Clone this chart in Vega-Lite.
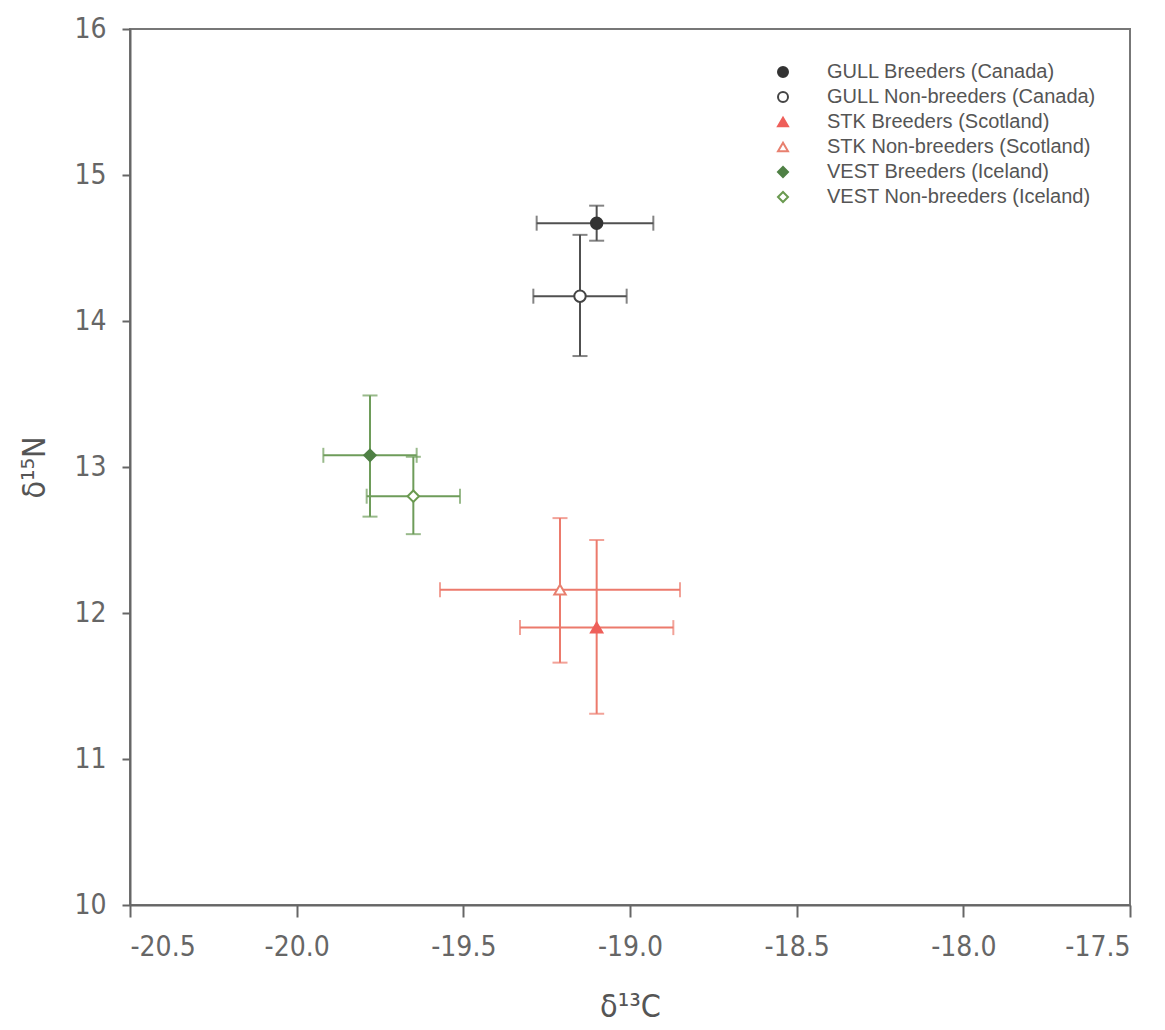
{
  "$schema": "https://vega.github.io/schema/vega-lite/v6.json",
  "width": 1000,
  "height": 876,
  "autosize": "none",
  "padding": {"left": 130, "top": 29, "right": 35, "bottom": 125},
  "background": "white",
  "config": {
    "view": {"stroke": "#777", "strokeWidth": 2},
    "axis": {
      "grid": false,
      "domainColor": "#666",
      "domainWidth": 2,
      "tickColor": "#666",
      "tickWidth": 2,
      "labelColor": "#666",
      "titleColor": "#555",
      "labelFont": "Liberation Sans Narrow, DejaVu Sans Condensed, sans-serif",
      "labelFontSize": 28,
      "titleFont": "Liberation Sans Narrow, DejaVu Sans Condensed, sans-serif",
      "titleFontSize": 32,
      "titleFontWeight": "normal"
    }
  },
  "data": {
    "values": [
      {"group": "GULL Breeders (Canada)", "species": "GULL", "x": -19.10, "y": 14.67, "xlo": -19.28, "xhi": -18.93, "ylo": 14.55, "yhi": 14.79},
      {"group": "GULL Non-breeders (Canada)", "species": "GULL", "x": -19.15, "y": 14.17, "xlo": -19.29, "xhi": -19.01, "ylo": 13.76, "yhi": 14.59},
      {"group": "STK Breeders (Scotland)", "species": "STK", "x": -19.10, "y": 11.90, "xlo": -19.33, "xhi": -18.87, "ylo": 11.31, "yhi": 12.50},
      {"group": "STK Non-breeders (Scotland)", "species": "STK", "x": -19.21, "y": 12.16, "xlo": -19.57, "xhi": -18.85, "ylo": 11.66, "yhi": 12.65},
      {"group": "VEST Breeders (Iceland)", "species": "VEST", "x": -19.78, "y": 13.08, "xlo": -19.92, "xhi": -19.64, "ylo": 12.66, "yhi": 13.49},
      {"group": "VEST Non-breeders (Iceland)", "species": "VEST", "x": -19.65, "y": 12.80, "xlo": -19.79, "xhi": -19.51, "ylo": 12.54, "yhi": 13.07}
    ]
  },
  "layer": [
    {
      "mark": {"type": "errorbar", "ticks": {"size": 15}, "thickness": 2},
      "encoding": {
        "x": {"field": "xlo", "type": "quantitative", "title": "δ¹³C",
          "scale": {"domain": [-20.5, -17.5], "nice": false, "zero": false},
          "axis": {"values": [-20.5, -20, -19.5, -19, -18.5, -18, -17.5], "tickSize": 12, "labelPadding": 16, "titlePadding": 30,
            "labelExpr": "replace(format(datum.value, '.1f'), '\u2212', '-')"}},
        "x2": {"field": "xhi"},
        "y": {"field": "y", "type": "quantitative", "title": "δ¹⁵N",
          "scale": {"domain": [10, 16], "nice": false, "zero": false},
          "axis": {"values": [10, 11, 12, 13, 14, 15, 16], "tickSize": 8, "labelPadding": 16, "titlePadding": 22,
            "labelExpr": "format(datum.value, 'd')"}},
        "color": {"field": "species", "type": "nominal", "legend": null,
          "scale": {"domain": ["GULL", "STK", "VEST"], "range": ["#505050", "#ec7a6c", "#6e9c5a"]}}
      }
    },
    {
      "mark": {"type": "errorbar", "ticks": {"size": 15}, "thickness": 2},
      "encoding": {
        "x": {"field": "x", "type": "quantitative", "title": "δ¹³C"},
        "y": {"field": "ylo", "type": "quantitative", "title": "δ¹⁵N"},
        "y2": {"field": "yhi"},
        "color": {"field": "species", "type": "nominal", "legend": null}
      }
    },
    {
      "mark": {"type": "point", "size": 130, "strokeWidth": 2, "opacity": 1, "fillOpacity": 1},
      "encoding": {
        "x": {"field": "x", "type": "quantitative", "title": "δ¹³C"},
        "y": {"field": "y", "type": "quantitative", "title": "δ¹⁵N"},
        "shape": {"field": "group", "type": "nominal",
          "scale": {"domain": ["GULL Breeders (Canada)", "GULL Non-breeders (Canada)", "STK Breeders (Scotland)", "STK Non-breeders (Scotland)", "VEST Breeders (Iceland)", "VEST Non-breeders (Iceland)"],
            "range": ["circle", "circle", "triangle-up", "triangle-up", "diamond", "diamond"]},
          "legend": {"orient": "none", "legendX": 643, "legendY": 33, "title": null, "labelFont": "Liberation Sans, Arial, sans-serif", "labelFontSize": 20, "labelColor": "#555", "labelLimit": 400, "labelOffset": 34, "rowPadding": 5, "symbolSize": 100, "symbolStrokeWidth": 2}},
        "fill": {"field": "group", "type": "nominal",
          "scale": {"domain": ["GULL Breeders (Canada)", "GULL Non-breeders (Canada)", "STK Breeders (Scotland)", "STK Non-breeders (Scotland)", "VEST Breeders (Iceland)", "VEST Non-breeders (Iceland)"],
            "range": ["#333333", "#ffffff", "#ee5f5a", "#ffffff", "#4f8045", "#ffffff"]},
          "legend": {"orient": "none", "legendX": 643, "legendY": 33, "title": null, "labelFont": "Liberation Sans, Arial, sans-serif", "labelFontSize": 20, "labelColor": "#555", "labelLimit": 400, "labelOffset": 34, "rowPadding": 5, "symbolSize": 100, "symbolStrokeWidth": 2}},
        "stroke": {"field": "group", "type": "nominal",
          "scale": {"domain": ["GULL Breeders (Canada)", "GULL Non-breeders (Canada)", "STK Breeders (Scotland)", "STK Non-breeders (Scotland)", "VEST Breeders (Iceland)", "VEST Non-breeders (Iceland)"],
            "range": ["#333333", "#444444", "#ee5f5a", "#e8806f", "#4f8045", "#6a9a50"]},
          "legend": {"orient": "none", "legendX": 643, "legendY": 33, "title": null, "labelFont": "Liberation Sans, Arial, sans-serif", "labelFontSize": 20, "labelColor": "#555", "labelLimit": 400, "labelOffset": 34, "rowPadding": 5, "symbolSize": 100, "symbolStrokeWidth": 2}}
      }
    }
  ]
}
